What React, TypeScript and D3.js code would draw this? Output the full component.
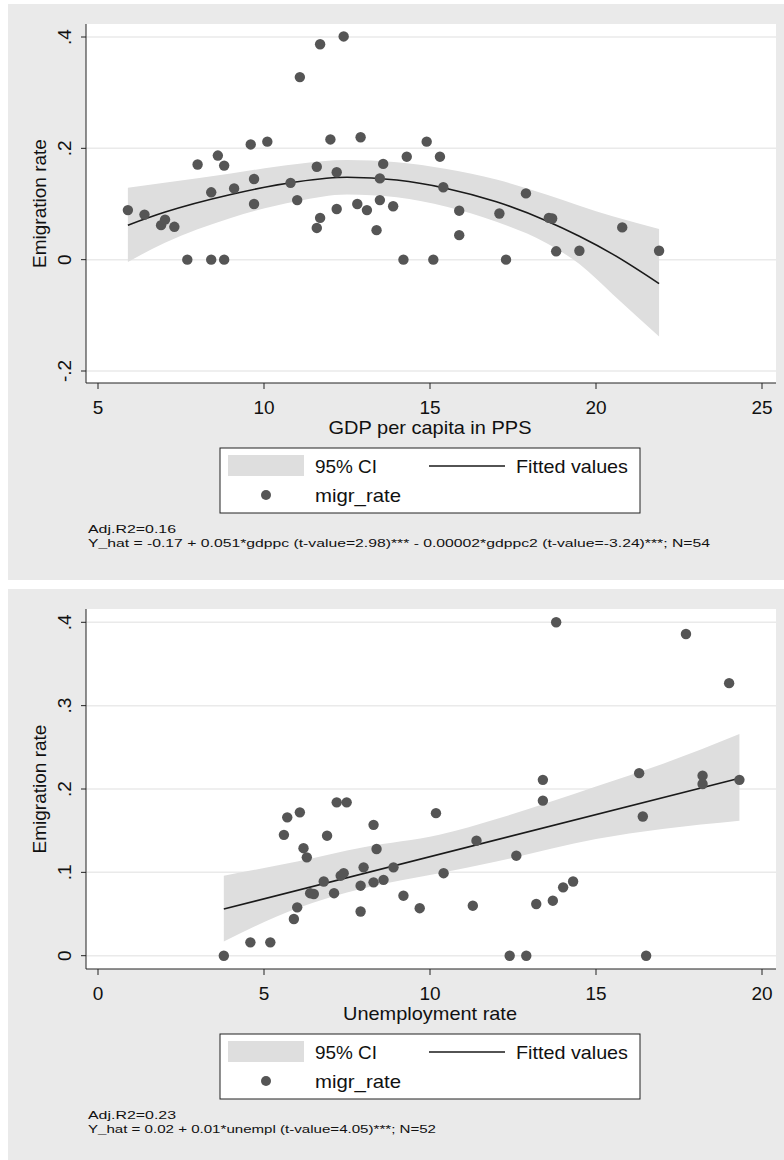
import React from "react";
import * as d3 from "d3";

// Panel 1: GDP per capita vs emigration rate
const gdpX = [5.9,6.4,6.9,7.02,7.3,7.69,8.0,8.41,8.41,8.61,8.8,8.8,9.1,9.6,9.7,9.7,10.1,10.8,11.0,11.08,11.59,11.59,11.69,11.69,12.0,12.19,12.19,12.4,12.81,12.91,13.1,13.39,13.49,13.49,13.59,13.89,14.2,14.3,14.9,15.1,15.3,15.4,15.88,15.88,17.09,17.29,17.89,18.58,18.68,18.8,19.5,20.79,21.9];
const gdpY = [0.089,0.081,0.062,0.072,0.059,0,0.171,0.121,0,0.187,0.169,0,0.128,0.207,0.145,0.1,0.212,0.138,0.107,0.328,0.167,0.057,0.387,0.075,0.216,0.157,0.091,0.401,0.1,0.22,0.089,0.053,0.146,0.107,0.172,0.096,0,0.185,0.212,0,0.185,0.13,0.088,0.044,0.083,0,0.119,0.075,0.074,0.015,0.016,0.058,0.016];
const gdpFitX = [5.9,7,9,11,12.5,14,15.5,17,18.5,19.5,20.5,21.9];
const gdpFit = [0.062,0.085,0.117,0.14,0.148,0.143,0.128,0.104,0.07,0.042,0.01,-0.043];
const gdpUp = [0.129,0.138,0.155,0.172,0.179,0.175,0.163,0.144,0.117,0.097,0.078,0.055];
const gdpLo = [-0.004,0.03,0.075,0.105,0.117,0.112,0.095,0.068,0.03,-0.008,-0.062,-0.138];
const gdpXTicks = [5,10,15,20,25];
const gdpYTicks = [-0.2,0,0.2,0.4];
const gdpYLabels = ["-.2","0",".2",".4"];

// Panel 2: Unemployment vs emigration rate
const unX = [3.79,4.59,5.19,5.6,5.7,5.9,6.0,6.08,6.19,6.29,6.39,6.5,6.8,6.9,7.11,7.19,7.31,7.4,7.49,7.91,7.91,8.0,8.3,8.3,8.39,8.6,8.9,9.2,9.69,10.18,10.41,11.29,11.4,12.4,12.6,12.9,13.2,13.4,13.4,13.7,13.8,14.01,14.31,16.3,16.41,16.51,17.71,18.21,18.21,19.01,19.32];
const unY = [0,0.016,0.016,0.145,0.166,0.044,0.058,0.172,0.129,0.118,0.075,0.074,0.089,0.144,0.075,0.184,0.096,0.099,0.184,0.084,0.053,0.106,0.157,0.088,0.128,0.091,0.106,0.072,0.057,0.171,0.099,0.06,0.138,0,0.12,0,0.062,0.211,0.186,0.066,0.4,0.082,0.089,0.219,0.167,0,0.386,0.216,0.206,0.327,0.211];
const unFitX = [3.79,19.32];
const unFit = [0.056,0.213];
const unCIX = [3.79,6,8,10.28,12,15,17,19.32];
const unUp = [0.096,0.113,0.13,0.145,0.164,0.203,0.23,0.266];
const unLo = [0.017,0.057,0.081,0.099,0.113,0.14,0.152,0.162];
const unXTicks = [0,5,10,15,20];
const unYTicks = [0,0.1,0.2,0.3,0.4];
const unYLabels = ["0",".1",".2",".3",".4"];

const FONT = "'Liberation Sans', Arial, sans-serif";
const FS = 19;

function Panel(props: any) {
  const { top, bottom, plotTop, plotBottom, xDom, yDom, xs, ys, fitX, fit, ciX, up, lo, xTicks, yTicks, yLabels, xTitle, xTitleLen, notes, noteLen } = props;
  const left = 86, right = 776;
  const x = d3.scaleLinear().domain(xDom).range([98, 762]);
  const y = d3.scaleLinear().domain(yDom).range(props.yRange);
  const area = d3.area<number>().x((d, i) => x(ciX[i])).y0((d, i) => y(lo[i])).y1((d) => y(d)).curve(d3.curveMonotoneX);
  const line = d3.line<number>().x((d, i) => x(fitX[i])).y((d) => y(d)).curve(d3.curveMonotoneX);
  const axisY = plotBottom;
  const lt = axisY + 65;
  return (
    <g fontFamily={FONT}>
      <rect x={8} y={top} width={776} height={bottom - top} fill="#eaeaea" />
      <rect x={left} y={plotTop} width={right - left} height={axisY - plotTop} fill="#fff" />
      {yTicks.map((t: number) => (
        <line key={t} x1={left} x2={right} y1={y(t)} y2={y(t)} stroke="#eaeaea" strokeWidth={1.5} />
      ))}
      <path d={area(up) || ""} fill="#dedede" />
      <path d={line(fit) || ""} fill="none" stroke="#1a1a1a" strokeWidth={1.6} />
      {xs.map((v: number, i: number) => (
        <circle key={i} cx={x(v)} cy={y(ys[i])} r={5.2} fill="#555" />
      ))}
      <line x1={left} x2={left} y1={plotTop} y2={axisY} stroke="#222" />
      <line x1={left} x2={right} y1={axisY} y2={axisY} stroke="#222" />
      {yTicks.map((t: number, i: number) => (
        <g key={t}>
          <line x1={left - 5} x2={left} y1={y(t)} y2={y(t)} stroke="#222" />
          <text transform={`translate(${left - 15},${y(t)}) rotate(-90)`} textAnchor="middle" fontSize={FS} fill="#111">{yLabels[i]}</text>
        </g>
      ))}
      {xTicks.map((t: number) => (
        <g key={t}>
          <line x1={x(t)} x2={x(t)} y1={axisY} y2={axisY + 6} stroke="#222" />
          <text x={x(t)} y={axisY + 31} textAnchor="middle" fontSize={FS} fill="#111">{t}</text>
        </g>
      ))}
      <text transform={`translate(46,${(plotTop + axisY) / 2}) rotate(-90)`} textAnchor="middle" fontSize={FS} fill="#111">Emigration rate</text>
      <text x={430} y={axisY + 51} textAnchor="middle" fontSize={FS} fill="#111" textLength={xTitleLen} lengthAdjust="spacingAndGlyphs">{xTitle}</text>
      <rect x={220} y={lt} width={420} height={65} fill="#fff" stroke="#222" />
      <rect x={228} y={lt + 7} width={76} height={21} fill="#dedede" />
      <text x={315} y={lt + 25} fontSize={FS} fill="#111" textLength={62} lengthAdjust="spacingAndGlyphs">95% CI</text>
      <line x1={429} x2={505} y1={lt + 18} y2={lt + 18} stroke="#1a1a1a" strokeWidth={1.6} />
      <text x={516} y={lt + 25} fontSize={FS} fill="#111" textLength={112} lengthAdjust="spacingAndGlyphs">Fitted values</text>
      <circle cx={266} cy={lt + 47} r={5} fill="#555" />
      <text x={315} y={lt + 54} fontSize={FS} fill="#111" textLength={86} lengthAdjust="spacingAndGlyphs">migr_rate</text>
      <text x={88} y={lt + 85} fontSize={11.5} fill="#111" textLength={88} lengthAdjust="spacingAndGlyphs">{notes[0]}</text>
      <text x={88} y={lt + 99} fontSize={11.5} fill="#111" textLength={noteLen} lengthAdjust="spacingAndGlyphs">{notes[1]}</text>
    </g>
  );
}

export default function App() {
  return (
    <svg width={784} height={1160} style={{ position: "absolute", left: 0, top: 0, background: "#fff" }}>
      <Panel top={4} bottom={580} plotTop={24} plotBottom={383} xDom={[5, 25]} yDom={[-0.2, 0.4]} yRange={[371, 37]}
        xs={gdpX} ys={gdpY} fitX={gdpFitX} fit={gdpFit} ciX={gdpFitX} up={gdpUp} lo={gdpLo}
        xTicks={gdpXTicks} yTicks={gdpYTicks} yLabels={gdpYLabels} xTitle="GDP per capita in PPS" xTitleLen={203}
        noteLen={622}
        notes={["Adj.R2=0.16", "Y_hat = -0.17 + 0.051*gdppc (t-value=2.98)*** - 0.00002*gdppc2 (t-value=-3.24)***; N=54"]} />
      <Panel top={589} bottom={1160} plotTop={609} plotBottom={969} xDom={[0, 20]} yDom={[0, 0.4]} yRange={[955.7, 622.3]}
        xs={unX} ys={unY} fitX={unFitX} fit={unFit} ciX={unCIX} up={unUp} lo={unLo}
        xTicks={unXTicks} yTicks={unYTicks} yLabels={unYLabels} xTitle="Unemployment rate" xTitleLen={174}
        noteLen={348}
        notes={["Adj.R2=0.23", "Y_hat = 0.02 + 0.01*unempl (t-value=4.05)***; N=52"]} />
    </svg>
  );
}
